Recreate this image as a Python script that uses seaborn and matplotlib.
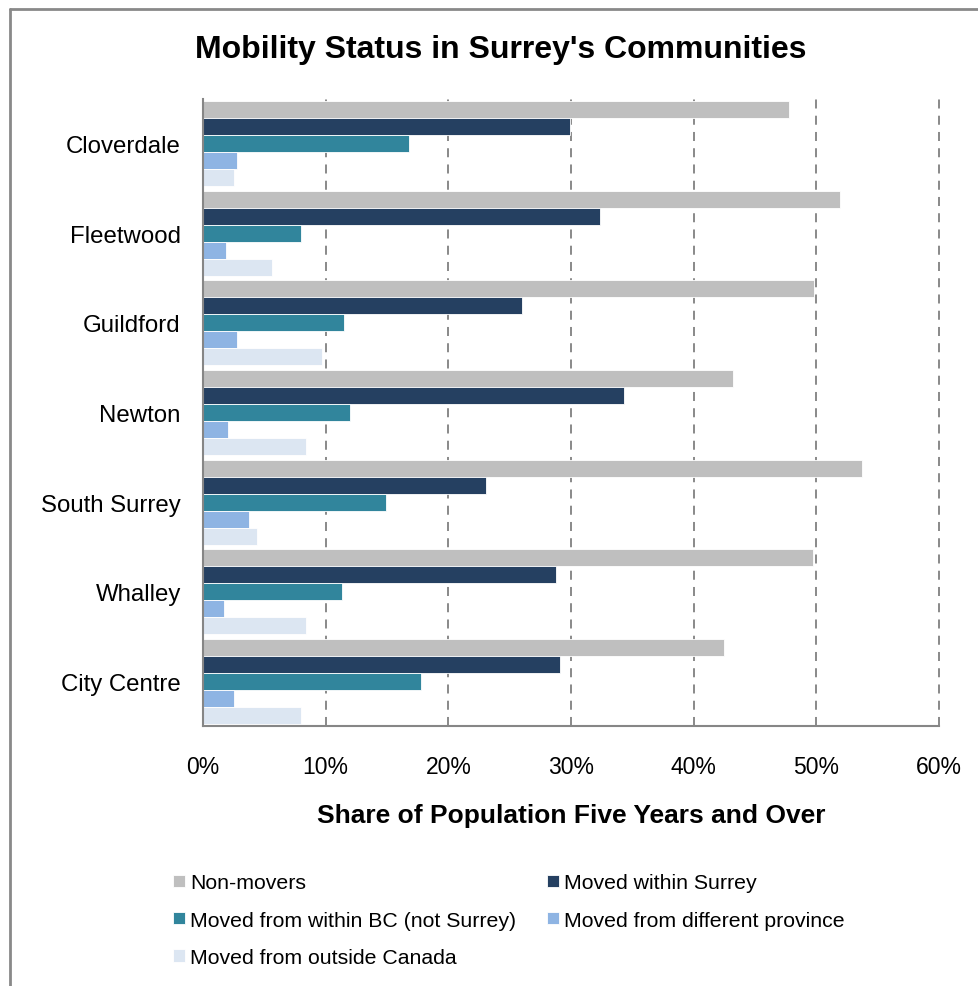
import matplotlib
matplotlib.use("Agg")
import matplotlib.pyplot as plt
import seaborn as sns
import pandas as pd
import numpy as np
from matplotlib.lines import Line2D
from matplotlib.ticker import FixedLocator, PercentFormatter

communities = ["Cloverdale", "Fleetwood", "Guildford", "Newton", "South Surrey", "Whalley", "City Centre"]
series = ["Non-movers", "Moved within Surrey", "Moved from within BC (not Surrey)",
          "Moved from different province", "Moved from outside Canada"]
non_movers = [47.8, 51.9, 49.8, 43.2, 53.7, 49.7, 42.5]
within_surrey = [29.9, 32.4, 26.0, 34.3, 23.1, 28.8, 29.1]
within_bc = [16.8, 8.0, 11.5, 12.0, 14.9, 11.3, 17.8]
diff_province = [2.8, 1.85, 2.75, 2.0, 3.75, 1.7, 2.5]
outside_canada = [2.55, 5.65, 9.7, 8.4, 4.4, 8.4, 8.0]
colors = ["#BFBFBF", "#254061", "#31859C", "#8EB4E3", "#DCE6F2"]
xticks = [0, 10, 20, 30, 40, 50, 60]

values = [non_movers, within_surrey, within_bc, diff_province, outside_canada]
rows = []
for s, vals in zip(series, values):
    for c, v in zip(communities, vals):
        rows.append({"Community": c, "Series": s, "Value": v})
df = pd.DataFrame(rows)

sns.set_theme(style="white")
plt.rcParams['font.family'] = ['Liberation Sans', 'DejaVu Sans']
plt.rcParams['text.color'] = 'black'
plt.rcParams['axes.labelcolor'] = 'black'

W, H = 979, 987
fig = plt.figure(figsize=(W / 100, H / 100), dpi=100)
ax = fig.add_axes([203 / W, 1 - 727 / H, (939 - 203) / W, (727 - 100) / H])

sns.barplot(data=df, y="Community", x="Value", hue="Series", order=communities,
            hue_order=series, palette=colors, orient="h", ax=ax, width=0.95,
            saturation=1, edgecolor="white", linewidth=0.6, legend=True)

ax.set_xlim(0, 60)
ax.set_ylim(len(communities) - 0.5, -0.5)
ax.xaxis.set_major_locator(FixedLocator(xticks))
ax.xaxis.set_major_formatter(PercentFormatter(decimals=0))
for x in xticks[1:]:
    ax.axvline(x, color="#808080", linestyle=(0, (5, 4)), linewidth=1.3, zorder=0,
               clip_on=False)

spine_c = "#868686"
for s in ["top", "right"]:
    ax.spines[s].set_visible(False)
for s in ["left", "bottom"]:
    ax.spines[s].set_color(spine_c)
    ax.spines[s].set_linewidth(1.5)

ax.tick_params(axis="x", which="major", length=5, width=1.3, color=spine_c,
               direction="out", labelsize=16.5, pad=16, labelcolor="black")
ax.set_yticks(range(len(communities)))
ax.set_yticklabels(communities)
ax.tick_params(axis="y", which="major", length=0, labelsize=17.3, pad=16, labelcolor="black")
ax.set_yticks(np.arange(-0.5, len(communities)), minor=True)
ax.tick_params(axis="y", which="minor", length=6, width=1.3, color=spine_c, direction="out")

ax.set_ylabel("")
ax.set_xlabel("Share of Population Five Years and Over", fontsize=19,
              fontweight="bold", labelpad=18, color="black")
fig.text(0.5115, 1 - 50 / H, "Mobility Status in Surrey's Communities",
         ha="center", va="center", fontsize=23, fontweight="bold", color="black")

handles, labels = ax.get_legend_handles_labels()
ax.get_legend().remove()
order = [0, 2, 4, 1, 3]
fig.legend([handles[i] for i in order], [labels[i] for i in order], ncol=2,
           loc="upper left", bbox_to_anchor=(165 / W, 1 - 866 / H), frameon=False,
           fontsize=15.3, handlelength=0.55, handleheight=0.55, handletextpad=0.25,
           columnspacing=1.45, labelspacing=0.85, borderaxespad=0)

border_c = "#898989"
fig.add_artist(Line2D([10 / W, 10 / W], [0, 1 - 10 / H], color=border_c, linewidth=2,
                      transform=fig.transFigure))
fig.add_artist(Line2D([10 / W, 1], [1 - 10 / H, 1 - 10 / H], color=border_c, linewidth=2,
                      transform=fig.transFigure))

fig.savefig("out.png", dpi=100)
